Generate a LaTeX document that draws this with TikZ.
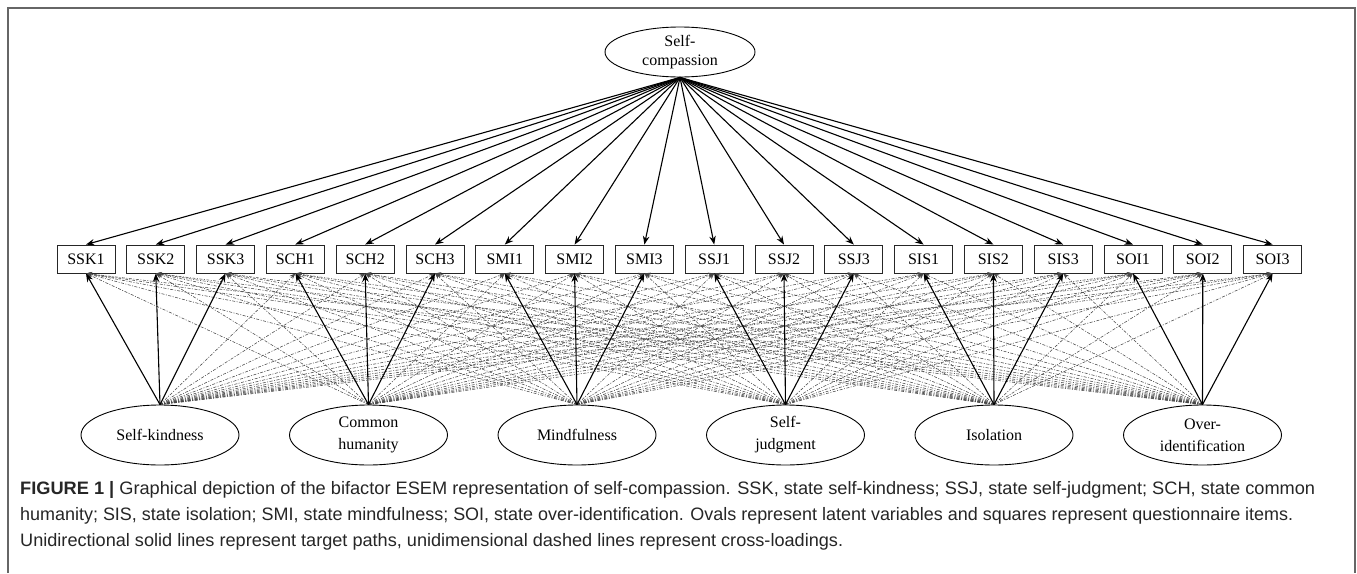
\documentclass[tikz,border=0pt]{standalone}
\usepackage{fontspec}
\setmainfont{Liberation Serif}
\newfontfamily\capfont{Liberation Sans}
\usetikzlibrary{arrows.meta,shapes.geometric}
\begin{document}
\begin{tikzpicture}[x=1pt,y=-1pt,
  item/.style={draw=black!85, fill=white, line width=0.9pt, minimum width=58pt, minimum height=28pt, inner sep=0pt, font=\fontsize{16}{18}\selectfont},
  latent/.style={ellipse, draw=black, fill=white, line width=0.9pt, minimum width=158pt, minimum height=60pt, inner sep=0pt, align=center, font=\fontsize{16}{22}\selectfont},
  load/.style={line width=1.1pt, -{Stealth[length=8.5pt,width=6.5pt]}},
  cross/.style={line width=0.55pt, draw=black!72, dash pattern=on 3pt off 1.5pt on 1pt off 1.5pt, -{Stealth[length=6pt,width=4.5pt]}},
  capline/.style={anchor=base west, inner sep=0pt, text=black!85, font=\capfont\fontsize{18}{20}\selectfont}
]
\useasboundingbox (0,0) rectangle (1357,573);
\fill[white] (0,0) rectangle (1357,573);
\draw[draw=black!60, line width=1.6pt] (8,573) -- (8,8) -- (1355,8) -- (1355,573);

% items
\foreach \lab [count=\i from 0] in {SSK1,SSK2,SSK3,SCH1,SCH2,SCH3,SMI1,SMI2,SMI3,SSJ1,SSJ2,SSJ3,SIS1,SIS2,SIS3,SOI1,SOI2,SOI3}{
  \node[item] (b\i) at ({86+69.8*\i},259) {\lab};
}
% general factor
\node[latent, minimum width=150pt, minimum height=50pt, font=\fontsize{16}{19}\selectfont] (top) at (680,52) {Self-\\compassion};
% specific factors
\node[latent] (f0) at (160,435) {Self-kindness};
\node[latent] (f1) at (368.5,435) {Common\\humanity};
\node[latent] (f2) at (577,435) {Mindfulness};
\node[latent] (f3) at (785.5,435) {Self-\\judgment};
\node[latent] (f4) at (994,435) {Isolation};
\node[latent] (f5) at (1202.5,435) {Over-\\identification};

% cross-loadings
\foreach \k in {0,...,5}{
  \foreach \i in {0,...,17}{
    \pgfmathtruncatemacro\g{int(\i/3)}
    \ifnum\g=\k\relax\else
      \draw[cross] (f\k.north) -- (b\i.south);
    \fi
  }
}
% target loadings
\foreach \k in {0,...,5}{
  \foreach \j in {0,1,2}{
    \pgfmathtruncatemacro\i{3*\k+\j}
    \draw[load] (f\k.north) -- (b\i.south);
  }
}
% general loadings
\foreach \i in {0,...,17}{
  \draw[load] (top.south) -- (b\i.north);
}

% caption
\node[capline] (c1) at (20,494) {\resizebox{1295pt}{\height}{\textbf{FIGURE 1} \textbf{|} Graphical depiction of the bifactor ESEM representation of self-compassion. SSK, state self-kindness; SSJ, state self-judgment; SCH, state common}};
\node[capline] (c2) at (20,520) {\resizebox{1273pt}{\height}{humanity; SIS, state isolation; SMI, state mindfulness; SOI, state over-identification. Ovals represent latent variables and squares represent questionnaire items.}};
\node[capline] (c3) at (20,546) {\resizebox{823pt}{\height}{Unidirectional solid lines represent target paths, unidimensional dashed lines represent cross-loadings.}};
\end{tikzpicture}
\end{document}
